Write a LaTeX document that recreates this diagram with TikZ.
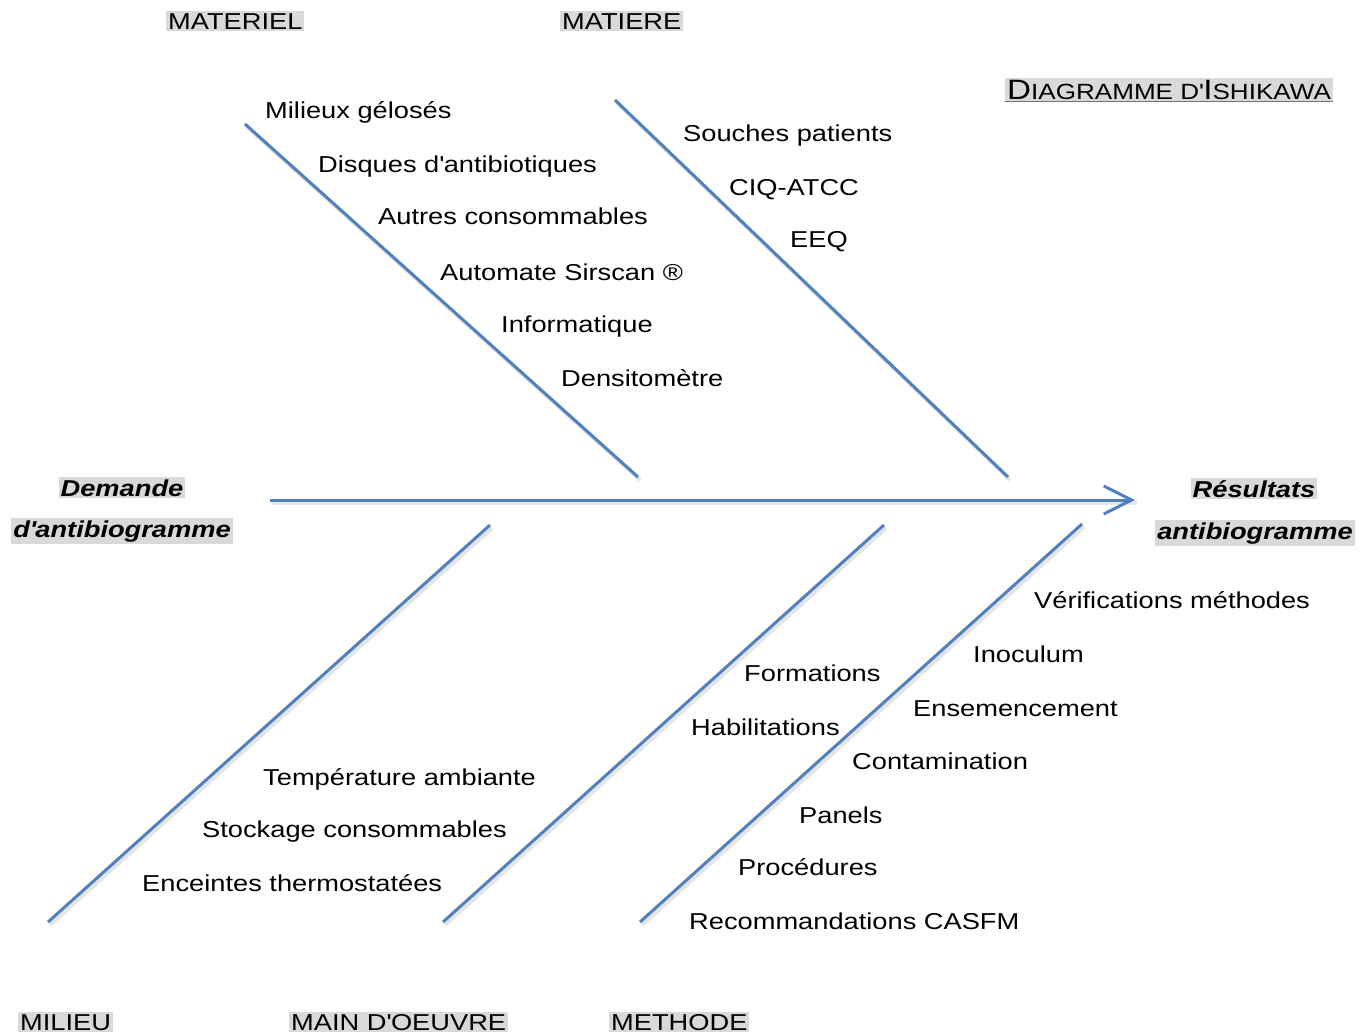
\documentclass[tikz,border=0pt]{standalone}
\usepackage{fontspec}
\setmainfont{Liberation Sans}[FakeStretch=1.185]
\usetikzlibrary{arrows.meta}
\definecolor{bone}{HTML}{4F81BD}
\definecolor{tag}{HTML}{D9D9D9}
\newcommand{\smcx}[1]{{\fontsize{22}{24}\selectfont #1}}
\newcommand{\ap}{\textquotesingle}
\begin{document}
\begin{tikzpicture}[x=1pt,y=-1pt,
  item/.style={anchor=base west, inner sep=0pt, font=\fontsize{23}{26}\selectfont},
  cat/.style={anchor=base west, fill=tag, inner sep=2pt, font=\fontsize{23}{26}\selectfont},
  io/.style={anchor=base, fill=tag, inner sep=2pt, font=\fontsize{23}{26}\selectfont\bfseries\itshape},
  bonel/.style={draw=bone, line width=3pt},
  shadowl/.style={draw=black!10, line width=4pt}]
\useasboundingbox (0,0) rectangle (1360,1036);
% coordinates of bones
\coordinate (s1) at (270,500); \coordinate (s2) at (1135,500);
\coordinate (a1) at (245,124); \coordinate (a2) at (638,477);
\coordinate (b1) at (615,100); \coordinate (b2) at (1008,477);
\coordinate (c1) at (490,525); \coordinate (c2) at (48,922);
\coordinate (d1) at (884,525); \coordinate (d2) at (443,922);
\coordinate (e1) at (1082,524); \coordinate (e2) at (640,922);
% shadows
\foreach \p/\q in {a1/a2,b1/b2,c1/c2,d1/d2,e1/e2,s1/s2}
  \draw[shadowl] ([shift={(2,3)}]\p) -- ([shift={(2,3)}]\q);
% bones
\draw[bonel] (a1) -- (a2);
\draw[bonel] (b1) -- (b2);
\draw[bonel] (c1) -- (c2);
\draw[bonel] (d1) -- (d2);
\draw[bonel] (e1) -- (e2);
\draw[bonel, -{Straight Barb[length=28pt, width=28pt, line width=3pt]}] (s1) -- (s2);
% categories
\node[cat] (materiel) at (166,29) {MATERIEL};
\node[cat] (matiere) at (560,29) {MATIERE};
\node[cat] (milieu) at (18,1030) {MILIEU};
\node[cat] (main) at (289,1030) {MAIN D\ap OEUVRE};
\node[cat] (methode) at (609,1030) {METHODE};
\node[anchor=base west, fill=tag, inner sep=2pt, font=\fontsize{28}{30}\selectfont] (title) at (1005,99)
  {D\smcx{IAGRAMME D\ap}I\smcx{SHIKAWA}};
\draw[black!55, line width=1.2pt] (title.south west) -- (title.south east);
% input / output
\node[io] (dem1) at (122,496) {Demande};
\node[io] (dem2) at (122,537) {d\ap antibiogramme};
\node[io] (res1) at (1254,497) {Résultats};
\node[io] (res2) at (1255,539) {antibiogramme};
% MATERIEL items
\node[item] (i1) at (265,118) {Milieux gélosés};
\node[item] (i2) at (318,172) {Disques d\ap antibiotiques};
\node[item] (i3) at (378,224) {Autres consommables};
\node[item] (i4) at (440,280) {Automate Sirscan ®};
\node[item] (i5) at (501,332) {Informatique};
\node[item] (i6) at (561,386) {Densitomètre};
% MATIERE items
\node[item] (j1) at (683,141) {Souches patients};
\node[item] (j2) at (729,195) {CIQ-ATCC};
\node[item] (j3) at (790,247) {EEQ};
% METHODE items
\node[item] (k1) at (1034,608) {Vérifications méthodes};
\node[item] (k2) at (973,662) {Inoculum};
\node[item] (k3) at (913,716) {Ensemencement};
\node[item] (k4) at (852,769) {Contamination};
\node[item] (k5) at (799,823) {Panels};
\node[item] (k6) at (738,875) {Procédures};
\node[item] (k7) at (689,929) {Recommandations CASFM};
% MAIN D'OEUVRE items
\node[item] (l1) at (744,681) {Formations};
\node[item] (l2) at (691,735) {Habilitations};
% MILIEU items
\node[item] (m1) at (263,785) {Température ambiante};
\node[item] (m2) at (202,837) {Stockage consommables};
\node[item] (m3) at (142,891) {Enceintes thermostatées};
\end{tikzpicture}
\end{document}
